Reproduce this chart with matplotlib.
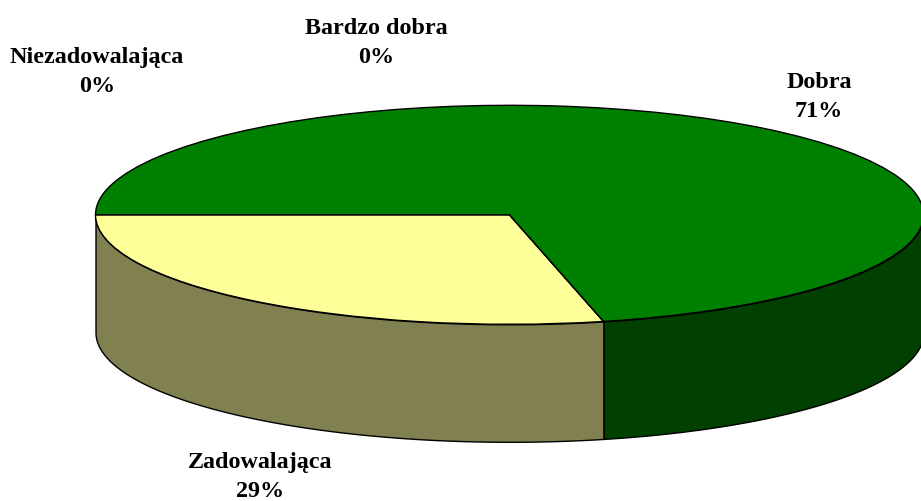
import numpy as np
import matplotlib
matplotlib.use("Agg")
import matplotlib.pyplot as plt

plt.rcParams['font.family'] = ['Liberation Serif', 'DejaVu Serif']

# kategorie i wartosci
kategorie = ["Zadowalająca", "Niezadowalająca", "Bardzo dobra", "Dobra"]
wartosci = [28.65, 0, 0, 71.35]
etykiety = ["29%", "0%", "0%", "71%"]
kolory_gora = ["#FFFF99", "#FF0000", "#0000FF", "#008000"]
kolory_bok = ["#808050", "#800000", "#000080", "#004000"]

W, H = 921, 502
cx, cy, rx, ry = 509.5, 215.8, 414, 109.5
glebokosc = 117.5 / ry

fig = plt.figure(figsize=(W / 100, H / 100), dpi=100)
ax = fig.add_axes([0, 0, 1, 1])

start = 180
kat = start
for w, kol in zip(wartosci, kolory_bok):
    koniec = kat + w * 3.6
    # tylko dolna polowa ellipsy jest widoczna z boku
    a = max(kat, 180)
    b = min(koniec, 360)
    if w > 0 and b > a:
        t = np.radians(np.linspace(a, b, 200))
        x = np.cos(t)
        y = np.sin(t)
        ax.fill_between(x, y, y - glebokosc, color=kol, ec="black", lw=1, zorder=1)
    kat = koniec

ax.pie(wartosci, colors=kolory_gora, startangle=start, radius=1, counterclock=True,
       wedgeprops=dict(edgecolor="black", linewidth=1, zorder=2), normalize=True)

ax.set_aspect("auto")
ax.set_xlim((0 - cx) / rx, (W - cx) / rx)
ax.set_ylim((cy - H) / ry, cy / ry)
ax.axis("off")

# pozycje etykiet w pikselach
pozycje = [(260, 477), (97, 72), (376, 43), (819, 97)]
for k, e, (px, py) in zip(kategorie, etykiety, pozycje):
    fig.text(px / W, 1 - py / H, k + "\n" + e, ha="center", va="center",
             fontsize=17.4, fontweight="bold", linespacing=1.55, color="black")

fig.savefig("out.png", dpi=100)
